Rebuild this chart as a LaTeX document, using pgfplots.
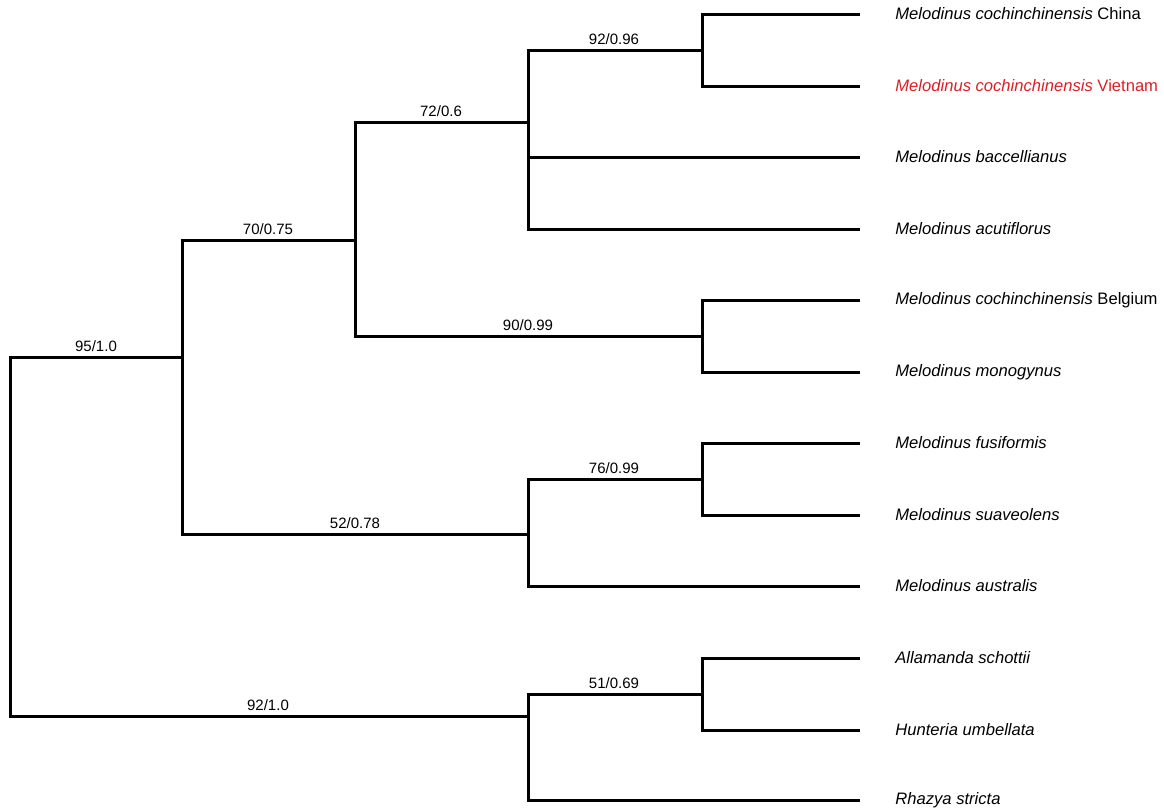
\documentclass[border=0pt]{standalone}
\usepackage{fontspec}
\setmainfont{Liberation Sans}
\usepackage{pgfplots}
\pgfplotsset{compat=1.18}
\definecolor{vred}{RGB}{220,30,36}
\newcommand{\tipfont}{\fontsize{8.3}{10}\selectfont}
\newcommand{\supfont}{\fontsize{7.5}{9}\selectfont}
\begin{document}
\begin{tikzpicture}
\begin{axis}[scale only axis, width=582pt, height=402.5pt,
  xmin=0, xmax=1164, ymin=0, ymax=805, y dir=reverse,
  hide axis, clip=false,
  br/.style={black, solid, line width=1.5pt, line join=miter, mark=none}]
\path (axis cs:0,0) (axis cs:1164,805);
% tree branches (pixel layout)
\addplot[br] coordinates {(860,14) (702,14) (702,86) (860,86)};
\addplot[br] coordinates {(860,300) (702,300) (702,372) (860,372)};
\addplot[br] coordinates {(860,443) (702,443) (702,515) (860,515)};
\addplot[br] coordinates {(860,658) (702,658) (702,730) (860,730)};
\addplot[br] coordinates {(702,50) (528,50) (528,229) (860,229)};
\addplot[br] coordinates {(528,157) (860,157)};
\addplot[br] coordinates {(528,122) (355,122) (355,336) (702,336)};
\addplot[br] coordinates {(702,479) (528,479) (528,586) (860,586)};
\addplot[br] coordinates {(702,694) (528,694) (528,800) (860,800)};
\addplot[br] coordinates {(355,240) (182,240) (182,534) (528,534)};
\addplot[br] coordinates {(182,357) (10,357) (10,716) (528,716)};
% support values
\begin{scope}[every node/.style={font=\supfont, anchor=south, inner sep=0pt}]
\node at (axis cs:614,45) {92/0.96};
\node at (axis cs:441,117) {72/0.6};
\node at (axis cs:268,235) {70/0.75};
\node at (axis cs:528,331) {90/0.99};
\node at (axis cs:96,352) {95/1.0};
\node at (axis cs:614,474) {76/0.99};
\node at (axis cs:355,529) {52/0.78};
\node at (axis cs:614,689) {51/0.69};
\node at (axis cs:268,711) {92/1.0};
\end{scope}
% tip labels
\begin{scope}[every node/.style={font=\tipfont, anchor=west, inner sep=0pt}]
\node at (axis cs:895,14) {\textit{Melodinus cochinchinensis} China};
\node[text=vred] at (axis cs:895,86) {\textit{Melodinus cochinchinensis} Vietnam};
\node at (axis cs:895,157) {\textit{Melodinus baccellianus}};
\node at (axis cs:895,229) {\textit{Melodinus acutiflorus}};
\node at (axis cs:895,300) {\textit{Melodinus cochinchinensis} Belgium};
\node at (axis cs:895,372) {\textit{Melodinus monogynus}};
\node at (axis cs:895,443) {\textit{Melodinus fusiformis}};
\node at (axis cs:895,515) {\textit{Melodinus suaveolens}};
\node at (axis cs:895,586) {\textit{Melodinus australis}};
\node at (axis cs:895,658) {\textit{Allamanda schottii}};
\node at (axis cs:895,730) {\textit{Hunteria umbellata}};
\node at (axis cs:895,800) {\textit{Rhazya stricta}};
\end{scope}
\end{axis}
\end{tikzpicture}
\end{document}
